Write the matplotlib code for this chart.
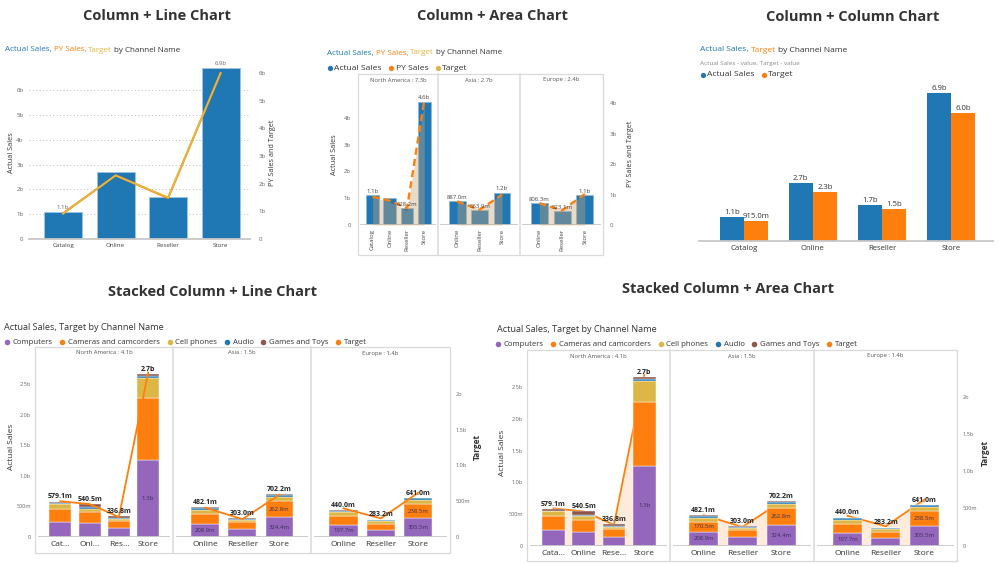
import numpy as np
import matplotlib
matplotlib.use('Agg')
import matplotlib.pyplot as plt
from matplotlib.lines import Line2D
from matplotlib.patches import Rectangle

# ---------------- data (values in billions) ----------------
channels = ['Catalog', 'Online', 'Reseller', 'Store']
actual_sales = [1.1, 2.7, 1.7, 6.9]
py_sales = [0.93, 2.3, 1.48, 6.0]
target = [0.915, 2.3, 1.5, 6.0]

regions = ['North America', 'Asia', 'Europe']
region_channels = [['Catalog', 'Online', 'Reseller', 'Store'],
                   ['Online', 'Reseller', 'Store'],
                   ['Online', 'Reseller', 'Store']]
region_actual = [[1.1, 1.0, 0.6282, 4.6], [0.887, 0.5639, 1.2], [0.8063, 0.5231, 1.1]]
region_py = [[0.93, 0.80, 0.55, 4.1], [0.78, 0.50, 1.0], [0.72, 0.48, 1.02]]
region_target = [[0.915, 0.75, 0.47, 4.0], [0.80, 0.52, 1.0], [0.75, 0.50, 1.0]]

categories = ['Computers', 'Cameras and camcorders', 'Cell phones', 'Audio', 'Games and Toys']
# rows = channels of the region, columns = categories
stack_na = [[0.248, 0.216, 0.074, 0.012, 0.0291],
            [0.221, 0.185, 0.058, 0.021, 0.0555],
            [0.142, 0.122, 0.036, 0.016, 0.0208],
            [1.255, 1.013, 0.335, 0.035, 0.022]]
stack_asia = [[0.2089, 0.1705, 0.062, 0.030, 0.0107],
              [0.136, 0.114, 0.028, 0.017, 0.008],
              [0.3244, 0.2628, 0.070, 0.035, 0.010]]
stack_europe = [[0.1977, 0.150, 0.058, 0.027, 0.0073],
                [0.120, 0.100, 0.035, 0.020, 0.0082],
                [0.3055, 0.2385, 0.065, 0.025, 0.007]]
stack_target = [[0.50, 0.46, 0.28, 2.3], [0.41, 0.25, 0.59], [0.40, 0.26, 0.62]]

line_xlabels = [['Cat…', 'Onl…', 'Res…', 'Store'], ['Online', 'Reseller', 'Store'], ['Online', 'Reseller', 'Store']]
area_xlabels = [['Cata…', 'Online', 'Rese…', 'Store'], ['Online', 'Reseller', 'Store'], ['Online', 'Reseller', 'Store']]

# ---------------- style ----------------
plt.rcParams['font.family'] = ['Open Sans', 'DejaVu Sans']
BLUE = '#1F77B4'; ORANGE = '#FF7F0E'; GOLD = '#E3B740'; PURPLE = '#9467BD'
BROWN = '#8C564B'; CELL = '#DDB745'
cat_colors = [PURPLE, ORANGE, CELL, BLUE, BROWN]
TXT = '#333333'; GREY = '#666666'; FRAME = '#DADADA'; BASE = '#C8C8C8'

W, H = 1000, 564
fig = plt.figure(figsize=(10, 5.64), dpi=100)
renderer = fig.canvas.get_renderer()


def fmt(v):
    return f"{v:.1f}b" if v >= 0.9995 else f"{v * 1000:.1f}m"


def add_ax(l, t, r, b):
    return fig.add_axes([l / W, 1 - b / H, (r - l) / W, (b - t) / H])


def clean(ax):
    for s in ax.spines.values():
        s.set_visible(False)
    ax.tick_params(length=0)
    ax.patch.set_alpha(0)


def ftext(x, y, s, **kw):
    return fig.text(x / W, 1 - y / H, s, **kw)


def rich(x, y, parts, size):
    cur = x
    sp = 0.26 * size * 100 / 72
    for s, c in parts:
        t = ftext(cur, y, s, color=c, fontsize=size, ha='left', va='center')
        cur += t.get_window_extent(renderer=renderer).width + sp


def legend(x, y, items, size, ms=3.8, moff=2.6, toff=6.8, gap=7):
    cur = x
    for lab, c in items:
        fig.add_artist(Line2D([(cur + moff) / W], [1 - y / H], marker='o', ms=ms, color=c,
                              mec='none', ls='', transform=fig.transFigure))
        t = ftext(cur + toff, y, lab, fontsize=size, color=TXT, ha='left', va='center')
        cur = cur + toff + t.get_window_extent(renderer=renderer).width + gap


def frame(xs, top, bottom):
    fig.add_artist(Rectangle((xs[0] / W, 1 - bottom / H), (xs[-1] - xs[0]) / W, (bottom - top) / H,
                             transform=fig.transFigure, fill=False, ec=FRAME, lw=0.9))
    for xv in xs[1:-1]:
        fig.add_artist(Line2D([xv / W, xv / W], [1 - bottom / H, 1 - top / H],
                              transform=fig.transFigure, color=FRAME, lw=1.1))


def title(x, y, s):
    ftext(x, y, s, ha='center', va='center', fontsize=10.5, fontweight='bold', color='#333333')


def ylabel(x, y, s, size=5.2, weight='normal'):
    ftext(x, y, s, rotation=90, ha='center', va='center', fontsize=size, color=TXT, fontweight=weight)


# ================= Column + Line Chart =================
title(157, 16, 'Column + Line Chart')
rich(5, 50, [('Actual Sales,', BLUE), ('PY Sales,', ORANGE), ('Target', GOLD), ('by Channel Name', TXT)], 5.75)
ax = add_ax(29, 62, 250, 239)
xs = np.arange(len(channels))
ax.bar(xs, actual_sales, width=0.72, color=BLUE, edgecolor='#9DC3E6', lw=0.7, zorder=2)
ax.set_xlim(-0.65, 3.56)
ax.set_ylim(0, 7.13)
clean(ax)
ax.spines['bottom'].set_visible(True)
ax.spines['bottom'].set_color(BASE)
ax.spines['bottom'].set_linewidth(1.3)
ax.set_yticks(range(7), ['0'] + [f'{i}b' for i in range(1, 7)])
ax.yaxis.grid(True, ls=(0, (1, 2.5)), color='#BBBBBB', lw=0.7)
ax.set_axisbelow(True)
ax.tick_params(axis='y', labelsize=4.3, labelcolor=GREY, pad=4)
ax.set_xticks(xs, channels)
ax.tick_params(axis='x', labelsize=4.5, labelcolor='#444444', pad=3)
for i in [0, 3]:
    ax.text(i, actual_sales[i] + 0.05, fmt(actual_sales[i]), ha='center', va='bottom', fontsize=4.3, color=GREY)
ax2 = ax.twinx()
clean(ax2)
ax2.set_ylim(0, 6.4)
ax2.set_yticks(range(7), ['0'] + [f'{i}b' for i in range(1, 7)])
ax2.tick_params(axis='y', labelsize=4.3, labelcolor=GREY, pad=6)
ax2.plot(xs, py_sales, color=ORANGE, lw=1.5)
ax2.plot(xs, target, color=GOLD, lw=1.3)
ylabel(12, 153, 'Actual Sales')
ylabel(273, 153, 'PY Sales and Target')

# ================= Column + Area Chart =================
title(492, 16, 'Column + Area Chart')
rich(327, 53, [('Actual Sales,', BLUE), ('PY Sales,', ORANGE), ('Target', GOLD), ('by Channel Name', TXT)], 5.75)
legend(327.5, 68, [('Actual Sales', BLUE), ('PY Sales', ORANGE), ('Target', GOLD)], 6.1)
mid_x = [358, 438, 520, 603]
show_mid = [(0, 0), (0, 2), (0, 3), (1, 0), (1, 1), (1, 2), (2, 0), (2, 1), (2, 2)]
for k in range(3):
    ax = add_ax(mid_x[k], 74, mid_x[k + 1], 225)
    n = len(region_channels[k])
    xs = np.arange(n)
    ax.bar(xs, region_actual[k], width=0.75, color=BLUE, edgecolor='#8FB8DA', lw=0.6, zorder=2)
    ax.set_xlim(-0.85, n - 1 + 0.8)
    ax.set_ylim(0, 5.63)
    clean(ax)
    ax.axhline(0, color=BASE, lw=1.3, xmin=0.04, xmax=0.96)
    ax.set_xticks(xs, region_channels[k], rotation=90)
    ax.tick_params(axis='x', labelsize=4.3, labelcolor='#444444', pad=3)
    if k == 0:
        ax.set_yticks([0, 1, 2, 3, 4], ['0', '1b', '2b', '3b', '4b'])
        ax.tick_params(axis='y', labelsize=4.3, labelcolor=GREY, pad=5)
    else:
        ax.set_yticks([])
    ax2 = ax.twinx()
    clean(ax2)
    ax2.set_ylim(0, 4.97)
    ax2.fill_between(xs, region_target[k], color='#C8A676', alpha=0.4, lw=0)
    ax2.plot(xs, region_py[k], color=ORANGE, lw=1.7, ls=(0, (3, 1.8)))
    if k == 2:
        ax2.set_yticks([0, 1, 2, 3, 4], ['0', '1b', '2b', '3b', '4b'])
        ax2.tick_params(axis='y', labelsize=4.3, labelcolor=GREY, pad=5)
    else:
        ax2.set_yticks([])
    for (kk, i) in show_mid:
        if kk == k:
            v = region_actual[k][i]
            ax2.text(i, v + 0.05, fmt(v), ha='center', va='bottom', fontsize=4.3, color='#444444',
                     transform=ax.transData)
    ftext((mid_x[k] + mid_x[k + 1]) / 2, 80, f"{regions[k]} : {fmt(sum(region_actual[k]))}",
          ha='center', va='center', fontsize=4.2, color='#555555')
frame(mid_x, 74, 255)
ylabel(335, 155, 'Actual Sales')
ylabel(630, 154, 'PY Sales and Target')

# ================= Column + Column Chart =================
title(853, 17, 'Column + Column Chart')
rich(700, 50, [('Actual Sales,', BLUE), ('Target', ORANGE), ('by Channel Name', TXT)], 6.0)
ftext(700, 63, 'Actual Sales - value, Target - value', ha='left', va='center', fontsize=4.6, color='#8A8A8A')
legend(700, 75, [('Actual Sales', BLUE), ('Target', ORANGE)], 6.1)
ax = add_ax(699, 90, 993, 241)
xs = np.arange(len(channels))
w = 0.35
ax.bar(xs - w / 2, actual_sales, w, color=BLUE)
ax.bar(xs + w / 2, target, w, color=ORANGE)
for i in range(len(channels)):
    ax.text(xs[i] - w / 2, actual_sales[i] + 0.05, fmt(actual_sales[i]), ha='center', va='bottom',
            fontsize=5.6, color=TXT)
    ax.text(xs[i] + w / 2, target[i] + 0.05, fmt(target[i]), ha='center', va='bottom',
            fontsize=5.6, color=TXT)
ax.set_xlim(-0.65, 3.61)
ax.set_ylim(0, 7.06)
clean(ax)
ax.spines['bottom'].set_visible(True)
ax.spines['bottom'].set_color(BASE)
ax.spines['bottom'].set_linewidth(1.3)
ax.set_yticks([])
ax.set_xticks(xs, channels)
ax.tick_params(axis='x', labelsize=5.6, labelcolor=TXT, pad=3)


# ================= Stacked charts =================
def stacked_chart(xb, top, bottom, base, lymax, rymax, xlabels, seg_show, area, head_y):
    stacks = [stack_na, stack_asia, stack_europe]
    for k in range(3):
        data = np.array(stacks[k])
        n = data.shape[0]
        xs = np.arange(n)
        totals = data.sum(axis=1)
        rect = (xb[k], top, xb[k + 1], base)
        if area:
            axl = add_ax(*rect)
            axb = add_ax(*rect)
            top_ax = axb
        else:
            axb = add_ax(*rect)
            axl = add_ax(*rect)
            top_ax = axl
        for a in (axl, axb):
            clean(a)
            a.set_xlim(-0.87, n - 1 + 0.85)
        axb.set_ylim(0, lymax)
        axl.set_ylim(0, rymax)
        bottoms = np.zeros(n)
        starts = []
        for c in range(len(categories)):
            axb.bar(xs, data[:, c], 0.75, bottom=bottoms, color=cat_colors[c], edgecolor='white', lw=0.3)
            starts.append(bottoms.copy())
            bottoms = bottoms + data[:, c]
        axb.axhline(0, color=BASE, lw=1.3, xmin=0.03, xmax=0.97)
        if area:
            axl.fill_between(xs, stack_target[k], color=ORANGE, alpha=0.15, lw=0)
        axl.plot(xs, stack_target[k], color=ORANGE, lw=1.3)
        axb.set_xticks(xs, xlabels[k])
        axb.tick_params(axis='x', labelsize=6, labelcolor=TXT, pad=3)
        axl.set_xticks([])
        if k == 0:
            axb.set_yticks([0, 0.5, 1, 1.5, 2, 2.5], ['0', '500m', '1.0b', '1.5b', '2.0b', '2.5b'])
            axb.tick_params(axis='y', labelsize=4, labelcolor=GREY, pad=3)
        else:
            axb.set_yticks([])
        axl.yaxis.tick_right()
        if k == 2:
            axl.set_yticks([0, 0.5, 1, 1.5, 2], ['0', '500m', '1.0b', '1.5b', '2b'])
            axl.tick_params(axis='y', labelsize=4, labelcolor=GREY, pad=4)
        else:
            axl.set_yticks([])
        for i in range(n):
            top_ax.text(i, totals[i] + 0.02, fmt(totals[i]), ha='center', va='bottom', fontsize=5,
                        fontweight='bold', color='#222222', transform=axb.transData)
        for (kk, i, c) in seg_show:
            if kk == k:
                top_ax.text(i, starts[c][i] + data[i, c] / 2, fmt(data[i, c]), ha='center', va='center',
                            fontsize=4.3, color='#3A2F55', transform=axb.transData)
        ftext((xb[k] + xb[k + 1]) / 2, head_y, f"{regions[k]} : {fmt(totals.sum())}",
              ha='center', va='center', fontsize=4.2, color='#555555')
    frame(xb, top, bottom)


leg_items = [(c, col) for c, col in zip(categories, cat_colors)] + [('Target', ORANGE)]

# Stacked Column + Line
title(213, 292, 'Stacked Column + Line Chart')
ftext(4, 327, 'Actual Sales, Target by Channel Name', ha='left', va='center', fontsize=6.6, color=TXT)
legend(4, 342, leg_items, 5.6, ms=4, moff=2.7, toff=8.5, gap=7)
seg_line = [(0, 3, 0), (1, 0, 0), (1, 2, 0), (1, 2, 1), (2, 0, 0), (2, 2, 0), (2, 2, 1)]
stacked_chart([35, 173, 311, 450], 347, 553, 537, 3.105, 2.657, line_xlabels, seg_line, False, 353)
ylabel(12, 447, 'Actual Sales', size=6)
ylabel(477, 447, 'Target', size=6, weight='bold')

# Stacked Column + Area
title(728, 289, 'Stacked Column + Area Chart')
ftext(497, 329, 'Actual Sales, Target by Channel Name', ha='left', va='center', fontsize=6.6, color=TXT)
legend(495, 344, leg_items, 5.6, ms=4, moff=2.7, toff=8.5, gap=7)
seg_area = seg_line + [(1, 0, 1)]
stacked_chart([527, 670, 814, 957], 350, 561, 545.5, 3.093, 2.635, area_xlabels, seg_area, True, 356)
ylabel(503, 453, 'Actual Sales', size=6)
ylabel(985, 453, 'Target', size=6, weight='bold')

fig.savefig('out.png', dpi=100)
